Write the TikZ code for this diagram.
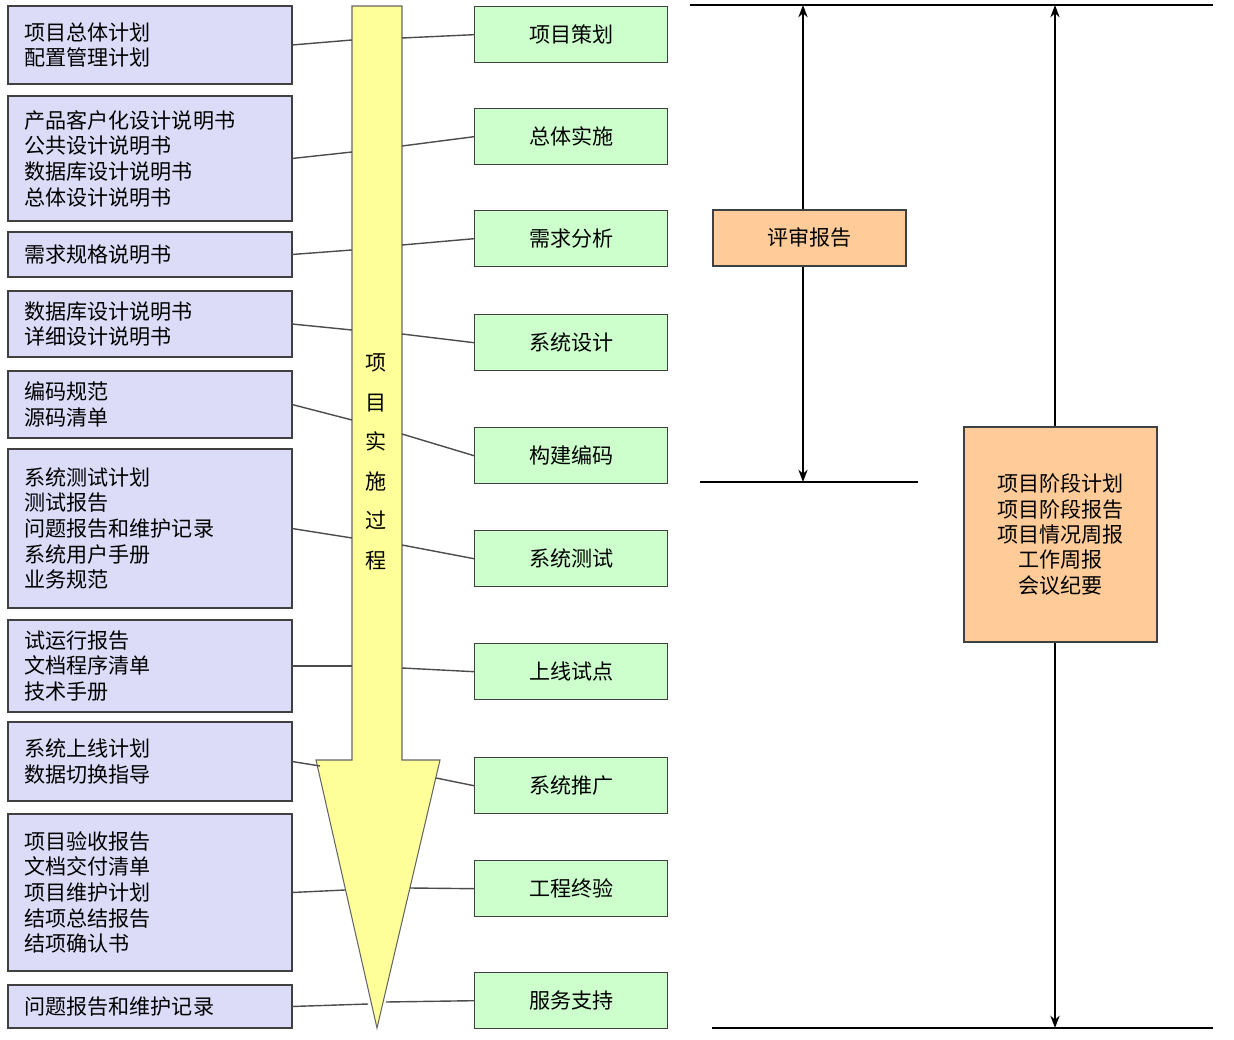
\documentclass[tikz,border=0pt]{standalone}
\usepackage{fontspec}
\setmainfont{Noto Sans CJK SC}
\usetikzlibrary{positioning}
\usetikzlibrary{arrows.meta}
\definecolor{doc}{HTML}{DCDCF8}
\definecolor{step}{HTML}{CCFFCC}
\definecolor{rev}{HTML}{FFCC99}
\definecolor{flow}{HTML}{FFFF99}
\begin{document}
\begin{tikzpicture}[x=0.02cm,y=-0.02cm,
    docbox/.style={draw=black!75,fill=doc,line width=0.8pt,anchor=north west,inner sep=0pt},
    stepbox/.style={draw=black!75,fill=step,line width=0.8pt,minimum width=3.86cm,minimum height=1.12cm,anchor=north west,font=\fontsize{12}{14}\selectfont},
    revbox/.style={draw=black!75,fill=rev,line width=0.8pt,font=\fontsize{12}{14}\selectfont,align=center},
    link/.style={draw=black!70,line width=0.8pt},
    span/.style={line width=0.8pt,{Stealth[length=7pt]}-{Stealth[length=7pt]}}]
   \useasboundingbox (0,0) rectangle (1234,1040);
   % flow arrow
   \draw[fill=flow,draw=black!60,line width=0.6pt] (352,6) -- (402,6) -- (402,760) -- (440,760)
     -- (377,1028) -- (316,760) -- (352,760) -- cycle;
   \node[align=center,font=\fontsize{12}{22.5}\selectfont] (flowtxt) at (376,462) {项\\目\\实\\施\\过\\程};
   % left documents
   \foreach \name/\top/\bot/\txt in {
     d1/6/84/{项目总体计划\\配置管理计划},
     d2/96/221/{产品客户化设计说明书\\公共设计说明书\\数据库设计说明书\\总体设计说明书},
     d3/232/277/{需求规格说明书},
     d4/291/357/{数据库设计说明书\\详细设计说明书},
     d5/371/438/{编码规范\\源码清单},
     d6/449/608/{系统测试计划\\测试报告\\问题报告和维护记录\\系统用户手册\\业务规范},
     d7/620/712/{试运行报告\\文档程序清单\\技术手册},
     d8/722/801/{系统上线计划\\数据切换指导},
     d9/814/971/{项目验收报告\\文档交付清单\\项目维护计划\\结项总结报告\\结项确认书},
     d10/985/1028/{问题报告和维护记录}}
   {
     \draw[docbox] (8,\top) rectangle (292,\bot);
     \node[anchor=west,align=left,inner sep=0pt,font=\fontsize{12}{14.6}\selectfont] (\name) at (24,{(\top+\bot)/2}) {\txt};
     \coordinate (\name e) at (292,{(\top+\bot)/2});
   }
   % phases
   \foreach \name/\top/\txt in {s1/6/项目策划,s2/108/总体实施,s3/210/需求分析,s4/314/系统设计,
     s5/427/构建编码,s6/530/系统测试,s7/643/上线试点,s8/757/系统推广,s9/860/工程终验,s10/972/服务支持}
   {
     \node[stepbox] (\name) at (474,\top) {\txt};
   }
   % links through the flow arrow
   \foreach \n/\la/\ra/\rx/\lx in {1/40/38/402/352,2/152/146/402/352,3/250/245/402/352,4/330/334/402/352,
     5/420/434/402/352,6/538/545/402/352,7/666/668/402/352,8/766/778/436/320,9/890/888/410/345,10/1004/1002/386/368}
   {
     \coordinate (al\n) at (\lx,\la);
     \coordinate (ar\n) at (\rx,\ra);
     \draw[link] (d\n e) -- (al\n);
     \draw[link] (ar\n) -- (s\n.west);
   }
   % reviews
   \coordinate (t1) at (690,5);  \coordinate (t2) at (1213,5);
   \coordinate (m1) at (700,482); \coordinate (m2) at (918,482);
   \coordinate (b1) at (712,1028); \coordinate (b2) at (1213,1028);
   \draw[line width=0.8pt] (t1) -- (t2) (m1) -- (m2) (b1) -- (b2);
   \draw[span] (803,5) -- (803,482);
   \draw[span] (1055,5) -- (1055,1028);
   \node[revbox,minimum width=3.86cm,minimum height=1.12cm] (review) at (809.5,238) {评审报告};
   \node[revbox,minimum width=3.86cm,minimum height=4.3cm,font=\fontsize{12}{14.4}\selectfont] (phase) at (1060.5,534.5)
     {项目阶段计划\\项目阶段报告\\项目情况周报\\工作周报\\会议纪要};
\end{tikzpicture}
\end{document}
